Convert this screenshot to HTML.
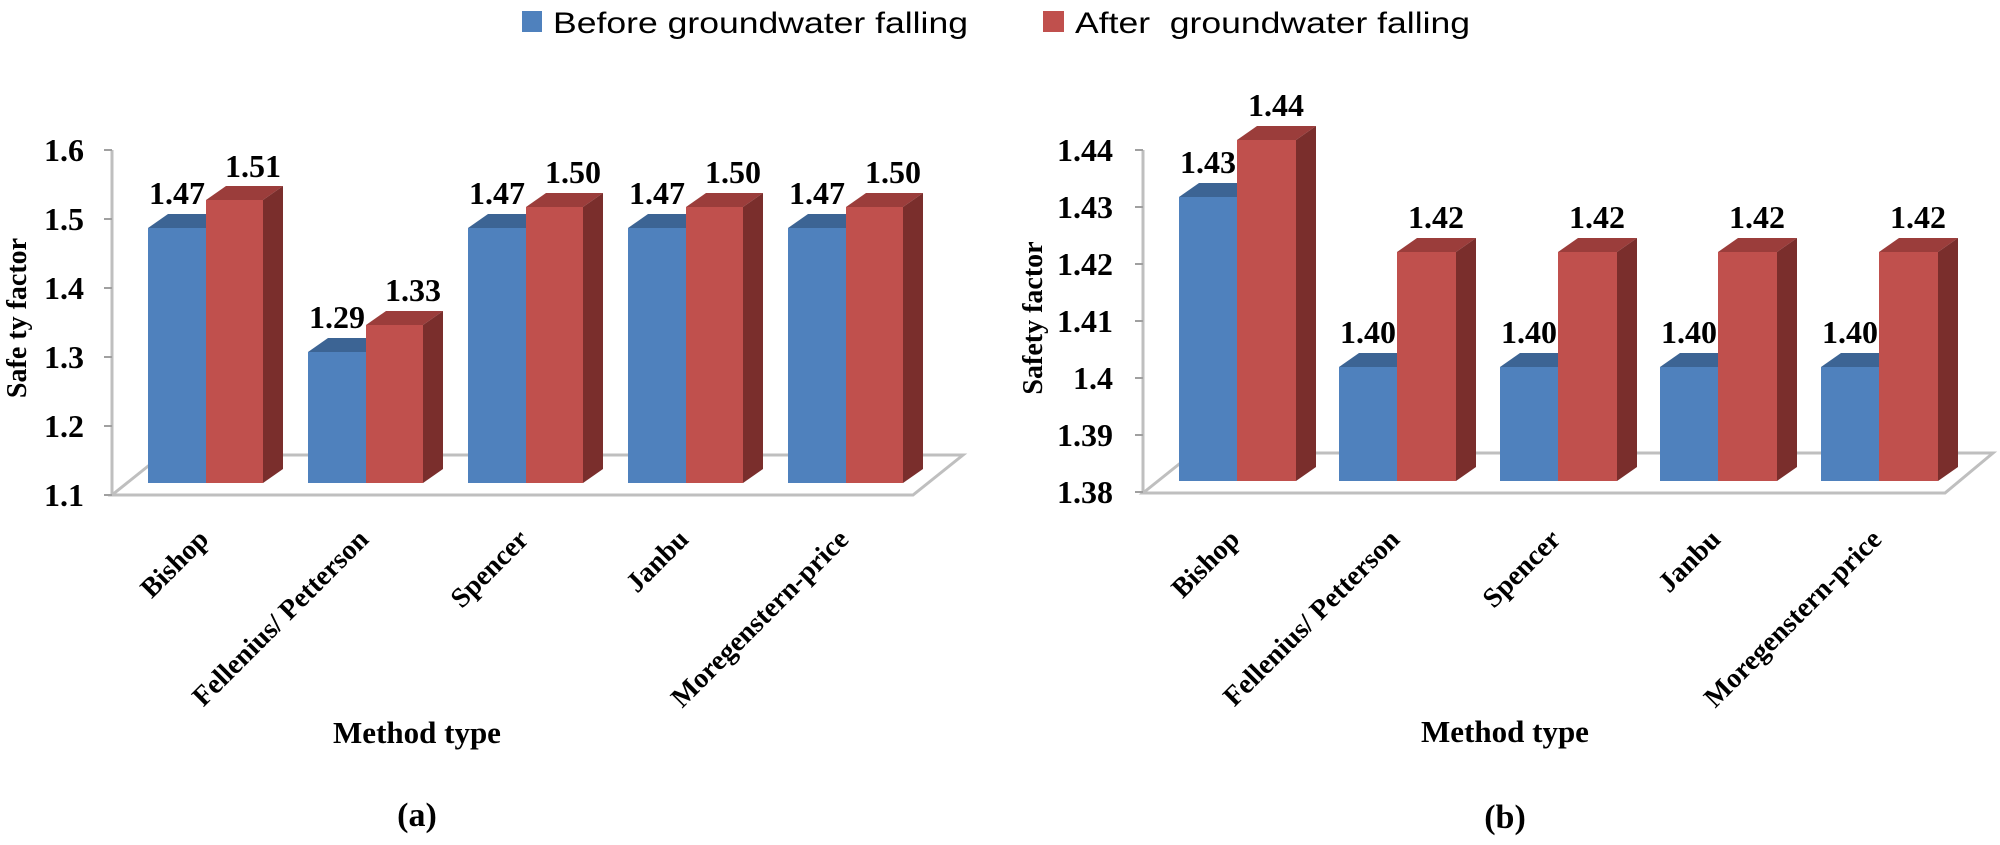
<!DOCTYPE html>
<html><head><meta charset="utf-8"><style>
html,body{margin:0;padding:0;background:#fff;}
svg{display:block;}
.t{font-family:"Liberation Serif",serif;font-weight:bold;fill:#000;}
</style></head><body>
<svg width="2000" height="845" viewBox="0 0 2000 845" xmlns="http://www.w3.org/2000/svg">
<!-- Legend -->
<rect x="522" y="11" width="20" height="21" fill="#4F81BD"/>
<text x="553" y="33" font-family="Liberation Sans, sans-serif" font-size="30" textLength="415" lengthAdjust="spacingAndGlyphs">Before groundwater falling</text>
<rect x="1043" y="11" width="21" height="21" fill="#C0504D"/>
<text x="1075" y="33" font-family="Liberation Sans, sans-serif" font-size="30" textLength="395" lengthAdjust="spacingAndGlyphs" xml:space="preserve">After  groundwater falling</text>

<!-- ============ Chart A ============ -->
<g stroke="#BFBFBF" stroke-width="3" fill="none">
<polygon points="112,495 913,495 963,455 162,455"/>
<line x1="112" y1="150" x2="112" y2="495"/>
</g>
<g stroke="#A0A0A0" stroke-width="2">
<line x1="104" y1="150" x2="112" y2="150"/><line x1="104" y1="219" x2="112" y2="219"/>
<line x1="104" y1="288" x2="112" y2="288"/><line x1="104" y1="357" x2="112" y2="357"/>
<line x1="104" y1="426" x2="112" y2="426"/><line x1="104" y1="495" x2="112" y2="495"/>
</g>
<g class="t" font-size="32" text-anchor="end">
<text x="84" y="161">1.6</text><text x="84" y="230">1.5</text><text x="84" y="299">1.4</text>
<text x="84" y="368">1.3</text><text x="84" y="437">1.2</text><text x="84" y="506">1.1</text>
</g>
<text class="t" font-size="28" text-anchor="middle" transform="translate(26,318) rotate(-90)">Safe ty factor</text>

<g id="barsA">
<!-- Bishop 1.47/1.51 -->
<polygon points="148,228 168,214 226,214 206,228" fill="#3C6494"/>
<rect x="148" y="228" width="58" height="255" fill="#4F81BD"/>
<polygon points="206,200 226,186 283,186 263,200" fill="#9B3D3B"/>
<polygon points="263,200 283,186 283,469 263,483" fill="#7A2E2C"/>
<rect x="206" y="200" width="57" height="283" fill="#C0504D"/>
<!-- Fellenius 1.29/1.33 -->
<polygon points="308,352 328,338 386,338 366,352" fill="#3C6494"/>
<rect x="308" y="352" width="58" height="131" fill="#4F81BD"/>
<polygon points="366,325 386,311 443,311 423,325" fill="#9B3D3B"/>
<polygon points="423,325 443,311 443,469 423,483" fill="#7A2E2C"/>
<rect x="366" y="325" width="57" height="158" fill="#C0504D"/>
<!-- Spencer 1.47/1.50 -->
<polygon points="468,228 488,214 546,214 526,228" fill="#3C6494"/>
<rect x="468" y="228" width="58" height="255" fill="#4F81BD"/>
<polygon points="526,207 546,193 603,193 583,207" fill="#9B3D3B"/>
<polygon points="583,207 603,193 603,469 583,483" fill="#7A2E2C"/>
<rect x="526" y="207" width="57" height="276" fill="#C0504D"/>
<!-- Janbu -->
<polygon points="628,228 648,214 706,214 686,228" fill="#3C6494"/>
<rect x="628" y="228" width="58" height="255" fill="#4F81BD"/>
<polygon points="686,207 706,193 763,193 743,207" fill="#9B3D3B"/>
<polygon points="743,207 763,193 763,469 743,483" fill="#7A2E2C"/>
<rect x="686" y="207" width="57" height="276" fill="#C0504D"/>
<!-- Moreg -->
<polygon points="788,228 808,214 866,214 846,228" fill="#3C6494"/>
<rect x="788" y="228" width="58" height="255" fill="#4F81BD"/>
<polygon points="846,207 866,193 923,193 903,207" fill="#9B3D3B"/>
<polygon points="903,207 923,193 923,469 903,483" fill="#7A2E2C"/>
<rect x="846" y="207" width="57" height="276" fill="#C0504D"/>
</g>
<g class="t" font-size="32" text-anchor="middle">
<text x="177" y="204">1.47</text><text x="253" y="177">1.51</text>
<text x="337" y="328">1.29</text><text x="413" y="301">1.33</text>
<text x="497" y="204">1.47</text><text x="573" y="183">1.50</text>
<text x="657" y="204">1.47</text><text x="733" y="183">1.50</text>
<text x="817" y="204">1.47</text><text x="893" y="183">1.50</text>
</g>
<g class="t" font-size="28" text-anchor="end">
<text transform="translate(210,541) rotate(-45)">Bishop</text>
<text transform="translate(370,541) rotate(-45)">Fellenius/ Petterson</text>
<text transform="translate(530,541) rotate(-45)">Spencer</text>
<text transform="translate(690,541) rotate(-45)">Janbu</text>
<text transform="translate(850,541) rotate(-45)">Moregenstern-price</text>
</g>
<text class="t" font-size="31" text-anchor="middle" x="417" y="743">Method type</text>
<text class="t" font-size="34" text-anchor="middle" x="417" y="826">(a)</text>

<!-- ============ Chart B ============ -->
<g stroke="#BFBFBF" stroke-width="3" fill="none">
<polygon points="1143,493 1945,493 1993,453 1193,453"/>
<line x1="1143" y1="150" x2="1143" y2="493"/>
</g>
<g stroke="#A0A0A0" stroke-width="2">
<line x1="1135" y1="150" x2="1143" y2="150"/><line x1="1135" y1="207" x2="1143" y2="207"/>
<line x1="1135" y1="264" x2="1143" y2="264"/><line x1="1135" y1="321" x2="1143" y2="321"/>
<line x1="1135" y1="378" x2="1143" y2="378"/><line x1="1135" y1="435" x2="1143" y2="435"/>
<line x1="1135" y1="492" x2="1143" y2="492"/>
</g>
<g class="t" font-size="32" text-anchor="end">
<text x="1113" y="161">1.44</text><text x="1113" y="218">1.43</text><text x="1113" y="275">1.42</text>
<text x="1113" y="332">1.41</text><text x="1113" y="389">1.4</text><text x="1113" y="446">1.39</text>
<text x="1113" y="503">1.38</text>
</g>
<text class="t" font-size="28" text-anchor="middle" transform="translate(1042,318) rotate(-90)">Safety factor</text>

<g>
<!-- Bishop 1.43/1.44 -->
<polygon points="1179,197 1199,183 1257,183 1237,197" fill="#3C6494"/>
<rect x="1179" y="197" width="58" height="284" fill="#4F81BD"/>
<polygon points="1237,140 1257,126 1316,126 1296,140" fill="#9B3D3B"/>
<polygon points="1296,140 1316,126 1316,467 1296,481" fill="#7A2E2C"/>
<rect x="1237" y="140" width="59" height="341" fill="#C0504D"/>
<!-- others 1.40/1.42 -->
<polygon points="1339,367 1359,353 1417,353 1397,367" fill="#3C6494"/>
<rect x="1339" y="367" width="58" height="114" fill="#4F81BD"/>
<polygon points="1397,252 1417,238 1476,238 1456,252" fill="#9B3D3B"/>
<polygon points="1456,252 1476,238 1476,467 1456,481" fill="#7A2E2C"/>
<rect x="1397" y="252" width="59" height="229" fill="#C0504D"/>

<polygon points="1500,367 1520,353 1578,353 1558,367" fill="#3C6494"/>
<rect x="1500" y="367" width="58" height="114" fill="#4F81BD"/>
<polygon points="1558,252 1578,238 1637,238 1617,252" fill="#9B3D3B"/>
<polygon points="1617,252 1637,238 1637,467 1617,481" fill="#7A2E2C"/>
<rect x="1558" y="252" width="59" height="229" fill="#C0504D"/>

<polygon points="1660,367 1680,353 1738,353 1718,367" fill="#3C6494"/>
<rect x="1660" y="367" width="58" height="114" fill="#4F81BD"/>
<polygon points="1718,252 1738,238 1797,238 1777,252" fill="#9B3D3B"/>
<polygon points="1777,252 1797,238 1797,467 1777,481" fill="#7A2E2C"/>
<rect x="1718" y="252" width="59" height="229" fill="#C0504D"/>

<polygon points="1821,367 1841,353 1899,353 1879,367" fill="#3C6494"/>
<rect x="1821" y="367" width="58" height="114" fill="#4F81BD"/>
<polygon points="1879,252 1899,238 1958,238 1938,252" fill="#9B3D3B"/>
<polygon points="1938,252 1958,238 1958,467 1938,481" fill="#7A2E2C"/>
<rect x="1879" y="252" width="59" height="229" fill="#C0504D"/>
</g>
<g class="t" font-size="32" text-anchor="middle">
<text x="1208" y="173">1.43</text><text x="1276" y="116">1.44</text>
<text x="1368" y="343">1.40</text><text x="1436" y="228">1.42</text>
<text x="1529" y="343">1.40</text><text x="1597" y="228">1.42</text>
<text x="1689" y="343">1.40</text><text x="1757" y="228">1.42</text>
<text x="1850" y="343">1.40</text><text x="1918" y="228">1.42</text>
</g>
<g class="t" font-size="28" text-anchor="end">
<text transform="translate(1241,541) rotate(-45)">Bishop</text>
<text transform="translate(1401,541) rotate(-45)">Fellenius/ Petterson</text>
<text transform="translate(1562,541) rotate(-45)">Spencer</text>
<text transform="translate(1722,541) rotate(-45)">Janbu</text>
<text transform="translate(1883,541) rotate(-45)">Moregenstern-price</text>
</g>
<text class="t" font-size="31" text-anchor="middle" x="1505" y="742">Method type</text>
<text class="t" font-size="34" text-anchor="middle" x="1505" y="828">(b)</text>
</svg>
</body></html>
